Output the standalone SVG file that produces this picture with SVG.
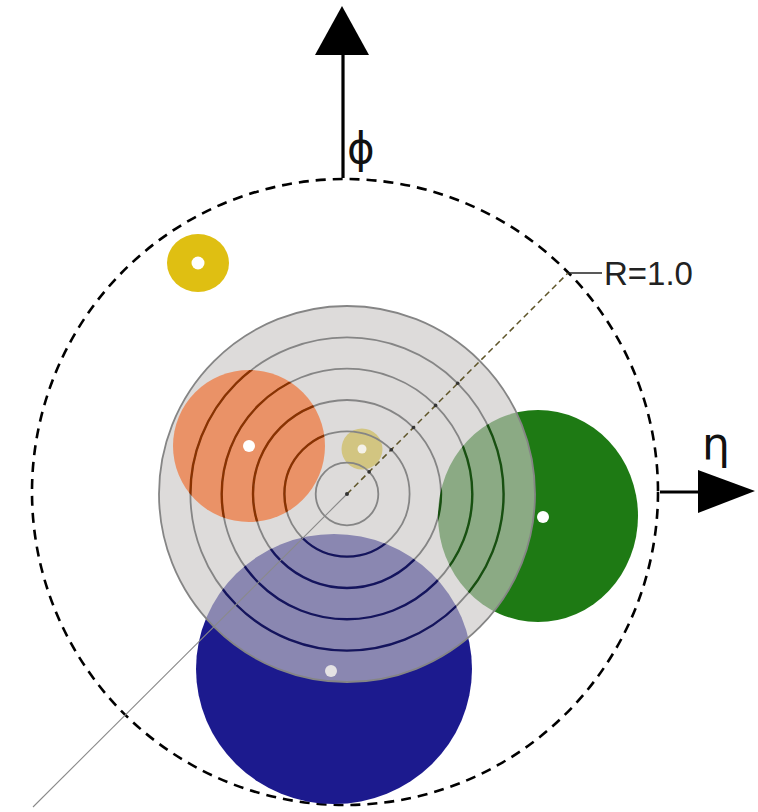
<svg xmlns="http://www.w3.org/2000/svg" width="758" height="812" viewBox="0 0 758 812">
<style>
.ring{fill:none;stroke:#858585;stroke-width:1.8}
.ringO{fill:none;stroke:#8a3200;stroke-width:2.4}
.ringB{fill:none;stroke:#14145e;stroke-width:2.4}
.ringG{fill:none;stroke:#175010;stroke-width:2.4}
.dot{fill:#ffffff}
.axis{stroke:#000;stroke-width:3.2;fill:none}
.lbl{font-family:"DejaVu Sans",sans-serif;fill:#111}
</style>
<defs>
<g id="rings">
<circle cx="347" cy="494" r="31.3"/>
<circle cx="347" cy="494" r="62.6"/>
<circle cx="347" cy="494" r="94"/>
<circle cx="347" cy="494" r="125.3"/>
<circle cx="347" cy="494" r="156.6"/>
</g>
<clipPath id="cO"><circle cx="249" cy="446" r="76"/></clipPath>
<clipPath id="cB"><ellipse cx="334" cy="669" rx="138" ry="135"/></clipPath>
<clipPath id="cG"><ellipse cx="538" cy="516" rx="100" ry="106"/></clipPath>
</defs>
<rect width="758" height="812" fill="#ffffff"/>

<g id="boundary">
<circle cx="345" cy="492" r="313" fill="none" stroke="#000" stroke-width="2.6" stroke-dasharray="10 7"/>
</g>

<g id="jet-blue">
<ellipse cx="334" cy="669" rx="138" ry="135" fill="#1c1a8e"/>
</g>
<g id="jet-green">
<ellipse cx="538" cy="516" rx="100" ry="106" fill="#1e7a14"/>
</g>
<g id="jet-yellow-center">
<circle cx="362" cy="449" r="20.5" fill="#e0c30c"/>
</g>

<g id="cone">
<circle cx="347" cy="494" r="188" fill="rgb(201,199,197)" fill-opacity="0.634"/>
<circle cx="347" cy="494" r="188" fill="none" stroke="#858585" stroke-width="1.8"/>
</g>

<g id="jet-orange">
<circle cx="249" cy="446" r="76" fill="#ea9267"/>
</g>

<g id="cone-rings">
<use href="#rings" class="ring"/>
<g clip-path="url(#cO)"><use href="#rings" class="ringO"/></g>
<g clip-path="url(#cB)"><use href="#rings" class="ringB"/></g>
<g clip-path="url(#cG)"><use href="#rings" class="ringG"/></g>
</g>

<g id="jet-yellow-top">
<ellipse cx="198" cy="263" rx="31" ry="29" fill="#dfbf12"/>
<circle cx="198" cy="263" r="6.5" class="dot"/>
</g>

<g id="connectors">
<line x1="33" y1="807" x2="347" y2="494" stroke="#8a8a8a" stroke-width="1.1"/>
<line x1="347" y1="494" x2="568" y2="273" stroke="#5e5428" stroke-width="1.5" stroke-dasharray="6 4"/>
<g fill="#333">
<circle cx="347" cy="494" r="2"/>
<circle cx="369.1" cy="471.9" r="1.8"/>
<circle cx="391.3" cy="449.7" r="1.8"/>
<circle cx="413.5" cy="427.5" r="1.8"/>
<circle cx="435.6" cy="405.4" r="1.8"/>
<circle cx="457.7" cy="383.3" r="1.8"/>
</g>
<line x1="568" y1="273" x2="602" y2="273" stroke="#222" stroke-width="1.6"/>
<line class="axis" x1="343" y1="178" x2="343" y2="50"/>
<polygon points="342,6 315,55 369,55" fill="#000"/>
<line class="axis" x1="660" y1="492" x2="700" y2="492"/>
<polygon points="698,470 698,513 755,491" fill="#000"/>
</g>

<g id="dots">
<circle cx="249" cy="446" r="6" class="dot"/>
<circle cx="362" cy="449" r="4.5" fill="#f4f1e8"/>
<circle cx="543" cy="517" r="6" class="dot"/>
<circle cx="331" cy="671" r="6" fill="#e4e2e4"/>
</g>

<g id="labels">
<text class="lbl" x="347" y="163" font-size="42">ϕ</text>
<text class="lbl" x="702" y="459" font-size="44">η</text>
<text x="604" y="285" font-family="Liberation Sans, Arial, sans-serif" font-size="33" fill="#222">R=1.0</text>
</g>
</svg>
